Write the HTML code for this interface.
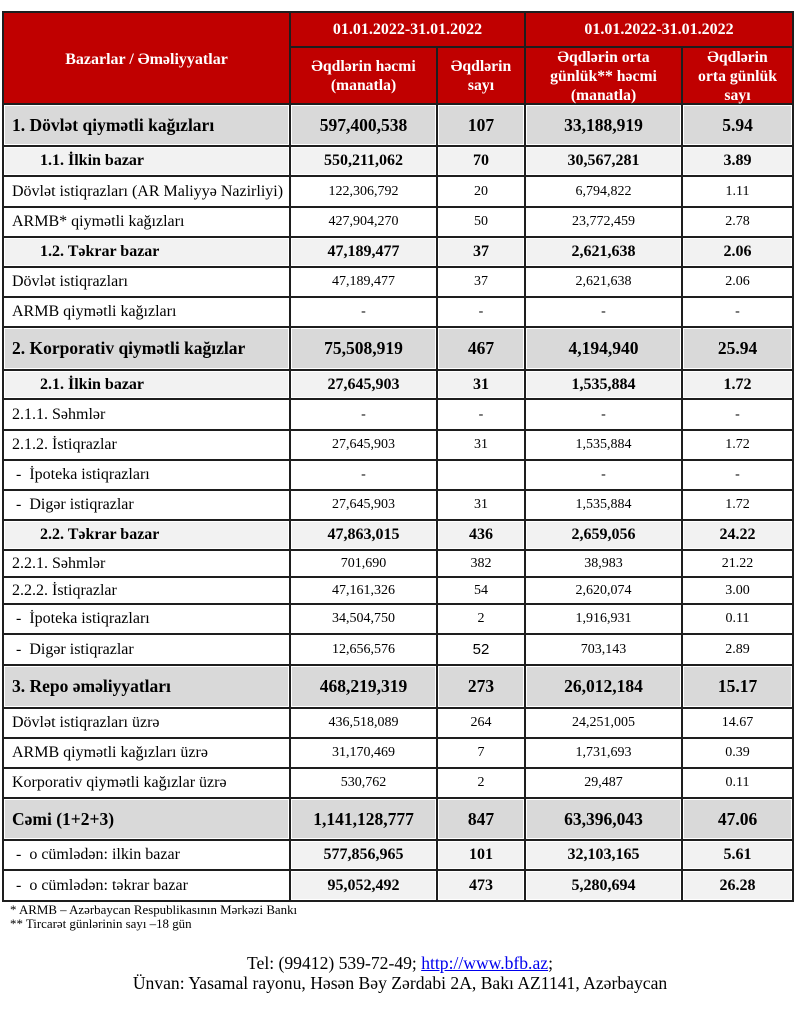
<!DOCTYPE html>
<html><head><meta charset="utf-8">
<style>
html,body{margin:0;padding:0;background:#fff;}
body{width:800px;height:1015px;position:relative;overflow:hidden;font-family:"Liberation Serif","DejaVu Serif",serif;color:#000;}
.g{position:absolute;left:2px;top:11px;width:788px;padding:2px;background:#1e1e1e;display:grid;
grid-template-columns:285px 145px 86px 155px 109px;
grid-template-rows:33px 55px 40px 28px 29px 28px 28px 28px 28px 41px 27px 29px 28px 28px 28px 28px 25px 25px 28px 29px 41px 28px 28px 28px 40px 28px 29px;
column-gap:2px;row-gap:2px;}
.g>div{background:#fff;display:flex;align-items:center;justify-content:center;text-align:center;font-size:14px;white-space:nowrap;overflow:hidden;}
.g>div.h{background:#c00000;color:#fff;font-weight:bold;font-size:15.7px;line-height:19px;white-space:normal;overflow:visible;}
.g>div.h2{padding-top:1px;box-sizing:border-box;}
.g>div.h0{font-size:16px;padding-top:2px;box-sizing:border-box;}
.g>div.h1{font-size:16px;}
.g>div.b{background:#d9d9d9;box-shadow:inset 0 0 0 1px #fff;font-weight:bold;font-size:17.5px;}
.g>div.s{background:#f2f2f2;box-shadow:inset 0 0 0 1px #fff;font-weight:bold;font-size:16px;}
.g>div.l{justify-content:flex-start;padding-left:8px;font-size:16px;}
.g>div.b.l{font-size:17.5px;}
.g>div.s.l{padding-left:36px;font-size:16px;}
.sans{font-family:"Liberation Sans",sans-serif;font-size:15px;}
.fn{position:absolute;left:10px;font-size:12.9px;line-height:14px;}
.ft{position:absolute;left:0;width:800px;text-align:center;font-size:17.6px;line-height:20px;}
.ft a{color:#0000ee;text-decoration:underline;}
</style></head><body>
<div class="g">
<div class="h h0" style="grid-row:1/3;grid-column:1">Bazarlar / Əməliyyatlar</div>
<div class="h h1" style="grid-column:2/4">01.01.2022-31.01.2022</div>
<div class="h h1" style="grid-column:4/6">01.01.2022-31.01.2022</div>
<div class="h h2" style="grid-row:2;grid-column:2">Əqdlərin həcmi<br>(manatla)</div>
<div class="h h2" style="grid-row:2;grid-column:3">Əqdlərin<br>sayı</div>
<div class="h h2" style="grid-row:2;grid-column:4">Əqdlərin orta<br>günlük** həcmi<br>(manatla)</div>
<div class="h h2" style="grid-row:2;grid-column:5">Əqdlərin<br>orta günlük<br>sayı</div>

<div class="b l">1. Dövlət qiymətli kağızları</div><div class="b">597,400,538</div><div class="b">107</div><div class="b">33,188,919</div><div class="b">5.94</div>
<div class="s l">1.1. İlkin bazar</div><div class="s">550,211,062</div><div class="s">70</div><div class="s">30,567,281</div><div class="s">3.89</div>
<div class="l">Dövlət istiqrazları (AR Maliyyə Nazirliyi)</div><div>122,306,792</div><div>20</div><div>6,794,822</div><div>1.11</div>
<div class="l">ARMB* qiymətli kağızları</div><div>427,904,270</div><div>50</div><div>23,772,459</div><div>2.78</div>
<div class="s l">1.2. Təkrar bazar</div><div class="s">47,189,477</div><div class="s">37</div><div class="s">2,621,638</div><div class="s">2.06</div>
<div class="l">Dövlət istiqrazları</div><div>47,189,477</div><div>37</div><div>2,621,638</div><div>2.06</div>
<div class="l">ARMB qiymətli kağızları</div><div>-</div><div>-</div><div>-</div><div>-</div>
<div class="b l">2. Korporativ qiymətli kağızlar</div><div class="b">75,508,919</div><div class="b">467</div><div class="b">4,194,940</div><div class="b">25.94</div>
<div class="s l">2.1. İlkin bazar</div><div class="s">27,645,903</div><div class="s">31</div><div class="s">1,535,884</div><div class="s">1.72</div>
<div class="l">2.1.1. Səhmlər</div><div>-</div><div>-</div><div>-</div><div>-</div>
<div class="l">2.1.2. İstiqrazlar</div><div>27,645,903</div><div>31</div><div>1,535,884</div><div>1.72</div>
<div class="l">&nbsp;-&nbsp; İpoteka istiqrazları</div><div>-</div><div></div><div>-</div><div>-</div>
<div class="l">&nbsp;-&nbsp; Digər istiqrazlar</div><div>27,645,903</div><div>31</div><div>1,535,884</div><div>1.72</div>
<div class="s l">2.2. Təkrar bazar</div><div class="s">47,863,015</div><div class="s">436</div><div class="s">2,659,056</div><div class="s">24.22</div>
<div class="l">2.2.1. Səhmlər</div><div>701,690</div><div>382</div><div>38,983</div><div>21.22</div>
<div class="l">2.2.2. İstiqrazlar</div><div>47,161,326</div><div>54</div><div>2,620,074</div><div>3.00</div>
<div class="l">&nbsp;-&nbsp; İpoteka istiqrazları</div><div>34,504,750</div><div>2</div><div>1,916,931</div><div>0.11</div>
<div class="l">&nbsp;-&nbsp; Digər istiqrazlar</div><div>12,656,576</div><div><span class="sans">52</span></div><div>703,143</div><div>2.89</div>
<div class="b l">3. Repo əməliyyatları</div><div class="b">468,219,319</div><div class="b">273</div><div class="b">26,012,184</div><div class="b">15.17</div>
<div class="l">Dövlət istiqrazları üzrə</div><div>436,518,089</div><div>264</div><div>24,251,005</div><div>14.67</div>
<div class="l">ARMB qiymətli kağızları üzrə</div><div>31,170,469</div><div>7</div><div>1,731,693</div><div>0.39</div>
<div class="l">Korporativ qiymətli kağızlar üzrə</div><div>530,762</div><div>2</div><div>29,487</div><div>0.11</div>
<div class="b l">Cəmi (1+2+3)</div><div class="b">1,141,128,777</div><div class="b">847</div><div class="b">63,396,043</div><div class="b">47.06</div>
<div class="l">&nbsp;-&nbsp; o cümlədən: ilkin bazar</div><div class="s">577,856,965</div><div class="s">101</div><div class="s">32,103,165</div><div class="s">5.61</div>
<div class="l">&nbsp;-&nbsp; o cümlədən: təkrar bazar</div><div class="s">95,052,492</div><div class="s">473</div><div class="s">5,280,694</div><div class="s">26.28</div>
</div>
<div class="fn" style="top:903px">* ARMB – Azərbaycan Respublikasının Mərkəzi Bankı</div>
<div class="fn" style="top:917px">** Tircarət günlərinin sayı –18 gün</div>
<div class="ft" style="top:953px">Tel: (99412) 539-72-49; <a>http://www.bfb.az</a>;</div>
<div class="ft" style="top:973px">Ünvan: Yasamal rayonu, Həsən Bəy Zərdabi 2A, Bakı AZ1141, Azərbaycan</div>
</body></html>
